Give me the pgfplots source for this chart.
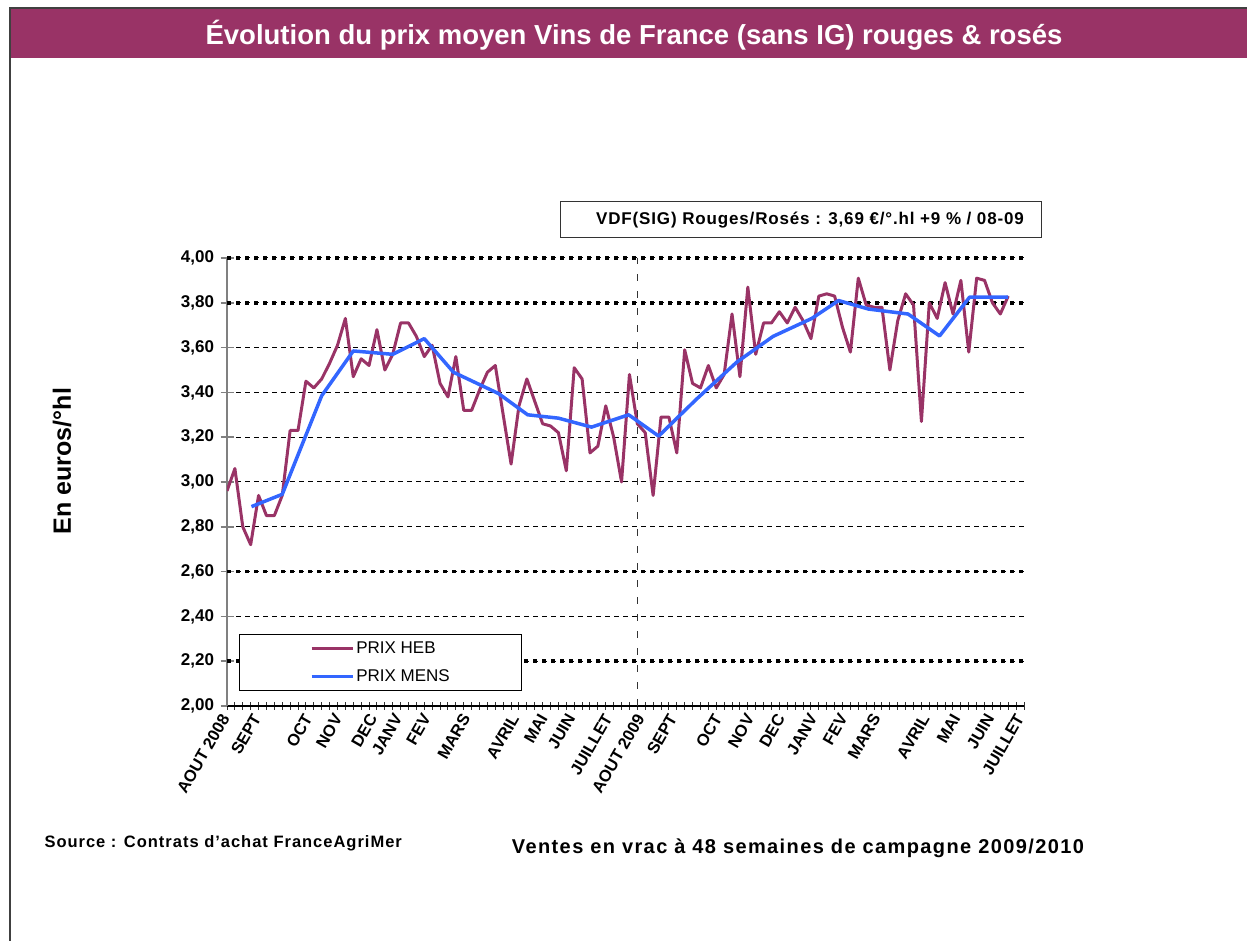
\documentclass[border=0pt]{standalone}
\usepackage{fontspec}
\setmainfont{Liberation Sans}
\newfontfamily\spaced[LetterSpace=5]{Liberation Sans}
\newfontfamily\spacedsrc[LetterSpace=6]{Liberation Sans}
\newfontfamily\spacedvt[LetterSpace=7]{Liberation Sans}
\usepackage{pgfplots}
\pgfplotsset{compat=1.18}
\definecolor{plum}{RGB}{153,51,102}
\definecolor{prixblue}{RGB}{51,102,255}

\begin{document}
\begin{tikzpicture}[x=1pt,y=1pt]
\useasboundingbox (0,0) rectangle (1247,941);
\clip (0,0) rectangle (1247,941);

% cadre et bandeau titre
\fill[plum] (10,883) rectangle (1260,933);
\draw[black!75, line width=1.5pt] (10,-20) -- (10,933) -- (1260,933);
\node[text=white, font=\fontsize{27.5}{32}\selectfont\bfseries] at (634,906)
  {Évolution du prix moyen Vins de France (sans IG) rouges \& rosés};

% encadré
\draw[black!80, line width=1pt] (560.7,703) rectangle (1041.7,739.3);
\node[font=\fontsize{17}{20}\selectfont\spaced\bfseries] at (810,721)
  {VDF(SIG) Rouges/Rosés : 3,69 €/°.hl +9 \% / 08-09};

\node[rotate=90, font=\fontsize{25}{30}\selectfont\bfseries] at (62,480) {En euros/°hl};

\node[anchor=west, font=\fontsize{16.5}{20}\selectfont\spacedsrc\bfseries] at (41,98)
  {Source : Contrats d’achat FranceAgriMer};
\node[font=\fontsize{20}{24}\selectfont\spacedvt\bfseries] at (798,93)
  {Ventes en vrac à 48 semaines de campagne 2009/2010};

\begin{axis}[
  at={(227pt,235pt)}, anchor=south west,
  scale only axis, width=797pt, height=448pt,
  xmin=0, xmax=101, ymin=2, ymax=4,
  axis x line*=bottom, axis y line*=left,
  x axis line style={black, line width=1.5pt},
  y axis line style={black!50, line width=2pt},
  tick align=center,
  xtick={0,4,10.5,14.3,18.7,21.9,25.5,30.5,36.7,40.3,43.8,48.5,
         52.6,56.7,62.4,66.5,70.4,74.5,78.3,82.5,88.7,92.6,96.9,100.7},
  xticklabels={AOUT 2008,SEPT,OCT,NOV,DEC,JANV,FEV,MARS,AVRIL,MAI,JUIN,JUILLET,
               AOUT 2009,SEPT,OCT,NOV,DEC,JANV,FEV,MARS,AVRIL,MAI,JUIN,JUILLET},
  major x tick style={draw=none},
  minor xtick={0,1,...,101},
  minor tick length=8pt,
  minor x tick style={black!80, line width=1pt},
  ytick={2,2.2,2.4,2.6,2.8,3,3.2,3.4,3.6,3.8,4},
  major tick length=13pt,
  major y tick style={black!50, line width=1.5pt},
  ymajorgrids,
  major grid style={black, line width=1pt, dash pattern=on 5pt off 4pt},
  extra y ticks={2.2,2.6,3.8,4},
  extra y tick labels={},
  extra y tick style={major tick length=0pt,
    major grid style={black, line width=3.5pt, dash pattern=on 3.5pt off 5.5pt}},
  /pgf/number format/assume math mode=true,
  yticklabel style={font=\fontsize{17}{20}\selectfont\bfseries, xshift=-3pt,
    /pgf/number format/fixed, /pgf/number format/fixed zerofill,
    /pgf/number format/precision=2, /pgf/number format/use comma},
  xticklabel style={font=\fontsize{16.5}{19}\selectfont\bfseries, rotate=60, anchor=east},
  legend style={at={(0.0154,0.16)}, anchor=north west, draw=black, line width=1pt,
    fill=white, font=\fontsize{17}{20}\selectfont, inner xsep=70pt, inner ysep=5pt,
    row sep=11pt},
  legend cell align=left,
  legend image code/.code={\draw[#1] (0pt,0pt) -- (41pt,0pt);},
]
\addplot[plum, line width=3pt, line join=round] table {
x y
0 2.96
1 3.06
2 2.80
3 2.72
4 2.94
5 2.85
6 2.85
7 2.94
8 3.23
9 3.23
10 3.45
11 3.42
12 3.46
13 3.53
14 3.61
15 3.73
16 3.47
17 3.55
18 3.52
19 3.68
20 3.50
21 3.57
22 3.71
23 3.71
24 3.65
25 3.56
26 3.61
27 3.44
28 3.38
29 3.56
30 3.32
31 3.32
32 3.41
33 3.49
34 3.52
35 3.30
36 3.08
37 3.34
38 3.46
39 3.36
40 3.26
41 3.25
42 3.22
43 3.05
44 3.51
45 3.46
46 3.13
47 3.16
48 3.34
49 3.20
50 3.00
51 3.48
52 3.26
53 3.22
54 2.94
55 3.29
56 3.29
57 3.13
58 3.59
59 3.44
60 3.42
61 3.52
62 3.42
63 3.48
64 3.75
65 3.47
66 3.87
67 3.57
68 3.71
69 3.71
70 3.76
71 3.71
72 3.78
73 3.72
74 3.64
75 3.83
76 3.84
77 3.83
78 3.69
79 3.58
80 3.91
81 3.79
82 3.78
83 3.78
84 3.50
85 3.72
86 3.84
87 3.79
88 3.27
89 3.80
90 3.73
91 3.89
92 3.75
93 3.90
94 3.58
95 3.91
96 3.90
97 3.80
98 3.75
99 3.83
};
\addlegendentry{PRIX HEB}
\addplot[prixblue, line width=3.5pt, line join=round] coordinates {
(3.1,2.89) (7,2.945) (12,3.385) (16,3.585) (21,3.57) (25,3.64)
(28.7,3.49) (34.4,3.395) (38.1,3.30) (42,3.285) (46.2,3.245) (50.9,3.30)
(54.7,3.205) (59.5,3.37) (64.6,3.535) (69.2,3.65) (74.1,3.73) (77.5,3.81)
(81.3,3.772) (86.3,3.75) (90.3,3.652) (94.1,3.825) (99,3.825)
};
\addlegendentry{PRIX MENS}
\draw[black!80, line width=1pt, dash pattern=on 7pt off 10pt] (axis cs:52,2) -- (axis cs:52,4);
\end{axis}
\end{tikzpicture}
\end{document}
